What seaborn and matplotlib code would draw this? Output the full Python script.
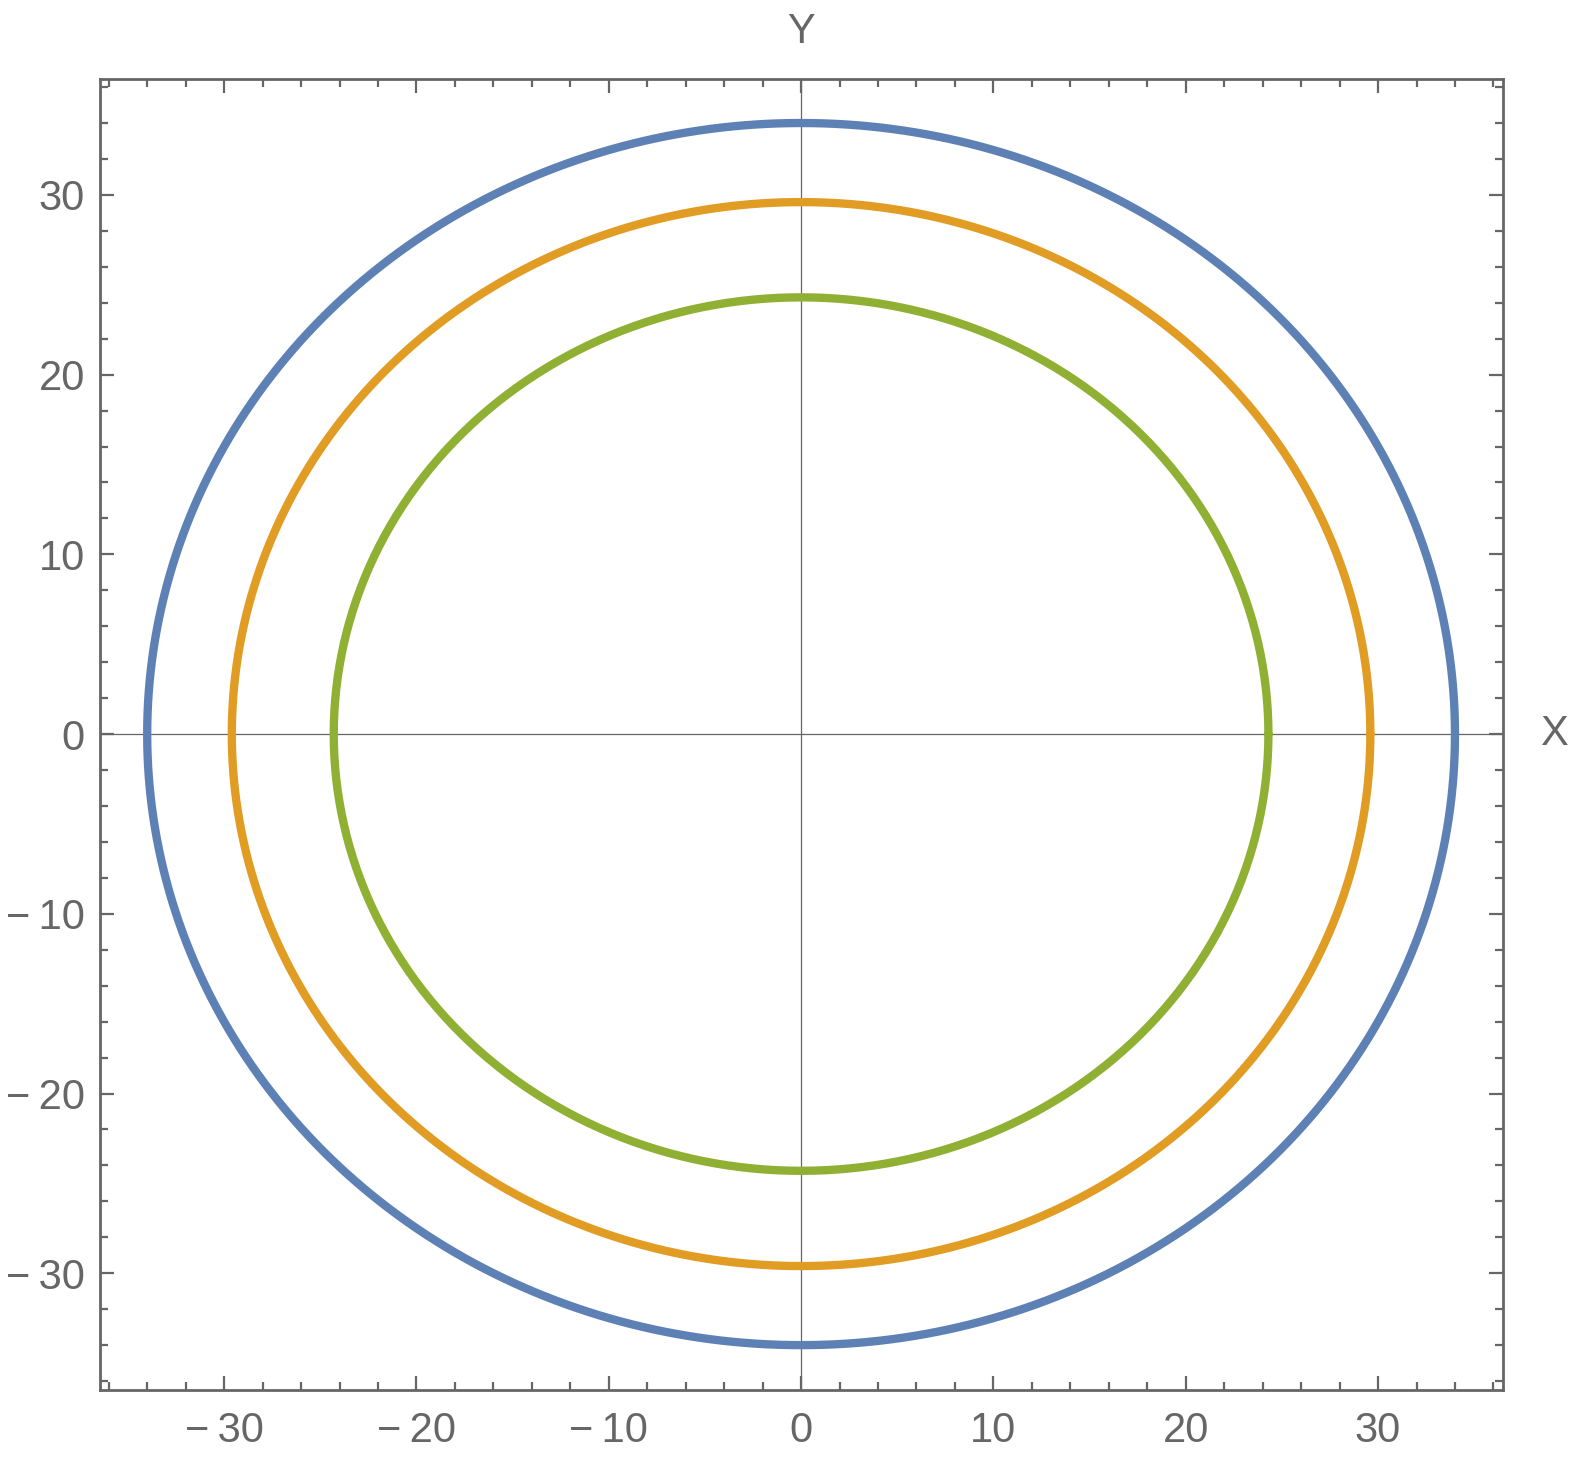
import numpy as np
import pandas as pd
import matplotlib
matplotlib.use("Agg")
import matplotlib.pyplot as plt
import matplotlib.transforms as mtransforms
import seaborn as sns
from matplotlib.ticker import MultipleLocator, FuncFormatter

# orbit radii
curve_names = ["outer", "middle", "inner"]
radii = [34.0, 29.6, 24.3]
colors = ["#5E81B5", "#E19C24", "#8FB032"]
major_ticks = [-30, -20, -10, 0, 10, 20, 30]

sns.set_style("white")
plt.rcParams["font.family"] = ["Liberation Sans", "DejaVu Sans"]

gray = "#666666"

# build a long table of the curves
theta = np.linspace(0, 2 * np.pi, 721)
frames = []
for name, r in zip(curve_names, radii):
    frames.append(pd.DataFrame({"x": r * np.cos(theta), "y": r * np.sin(theta),
                                "curve": name}))
df = pd.concat(frames, ignore_index=True)

fig = plt.figure(figsize=(15.86, 14.6), dpi=100)
ax = fig.add_axes([0.0631, 0.0479, 0.8846, 0.898])

# zero axes
ax.axhline(0, color=gray, lw=0.9, zorder=1)
ax.axvline(0, color=gray, lw=0.9, zorder=1)

sns.lineplot(data=df, x="x", y="y", hue="curve", palette=colors, sort=False,
             estimator=None, units="curve", lw=6, legend=False, ax=ax, zorder=3)


def fmt(v, pos):
    n = int(round(v))
    return "\u2212\u2009" + str(-n) if n < 0 else str(n)


ax.set_xlim(-36.45, 36.5)
ax.set_ylim(-36.5, 36.45)
ax.set_xticks(major_ticks)
ax.set_yticks(major_ticks)
ax.xaxis.set_major_formatter(FuncFormatter(fmt))
ax.yaxis.set_major_formatter(FuncFormatter(fmt))
ax.xaxis.set_minor_locator(MultipleLocator(2))
ax.yaxis.set_minor_locator(MultipleLocator(2))
ax.tick_params(which="both", direction="in", top=True, right=True, bottom=True,
               left=True, color=gray, labelcolor=gray, labelsize=30, width=1.6)
ax.tick_params(which="major", length=10)
ax.tick_params(which="minor", length=6)
ax.tick_params(axis="x", which="major", pad=15)
ax.tick_params(axis="y", which="major", pad=11)
ax.set_xlabel("")
ax.set_ylabel("")
for sp in ax.spines.values():
    sp.set_color(gray)
    sp.set_linewidth(2)

# axis labels at the ends of the zero lines
tx = mtransforms.blended_transform_factory(ax.transAxes, ax.transData)
ax.text(1.036, 0, "X", transform=tx, color=gray, fontsize=30,
        ha="center", va="center", clip_on=False)
ty = mtransforms.blended_transform_factory(ax.transData, ax.transAxes)
ax.text(0, 1.036, "Y", transform=ty, color=gray, fontsize=30,
        ha="center", va="center", clip_on=False)

fig.savefig("out.png", dpi=100, facecolor="white")
